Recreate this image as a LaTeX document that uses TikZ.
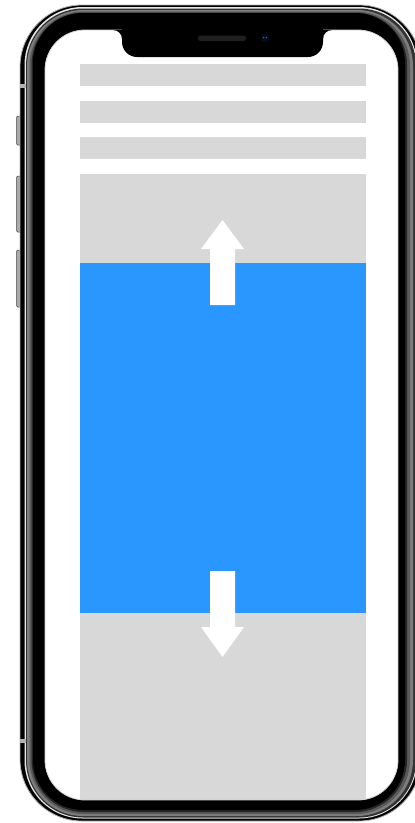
\documentclass[tikz,border=0pt]{standalone}
\definecolor{barGray}{RGB}{216,216,216}
\definecolor{panelBlue}{RGB}{41,151,255}
\definecolor{bandGray}{RGB}{125,125,125}
\definecolor{hiGray}{RGB}{230,230,230}
\definecolor{btnGray}{RGB}{170,170,170}
\definecolor{camBlue}{RGB}{40,90,200}
\tikzset{
  sidebtn/.style={fill=btnGray, draw=black!75, line width=0.5pt, rounded corners=1.2pt},
  antenna/.style={fill=gray!60},
  bar/.style={fill=barGray},
  arrowshape/.style={fill=white}
}
\begin{document}
\begin{tikzpicture}[x=1pt,y=-1pt]
\useasboundingbox (0,0) rectangle (415,823);
\clip (0,0) rectangle (415,823);
\fill[white] (0,0) rectangle (415,823);
% side buttons
\draw[sidebtn] (16.5,116) rectangle (22,145);
\draw[sidebtn] (16.5,176) rectangle (22,232);
\draw[sidebtn] (16.5,250) rectangle (22,307);
% body layers
\fill[black, draw=gray!60, line width=0.8pt, rounded corners=62pt] (20,5) rectangle (421,821);
\fill[hiGray, rounded corners=58pt] (24.5,7) rectangle (417,818.5);
\fill[black!80, rounded corners=57pt] (26,8.5) rectangle (416,817.5);
\fill[bandGray, rounded corners=56pt] (27,10) rectangle (413,816);
\fill[black!65, rounded corners=54pt] (29.5,11.5) rectangle (410,814);
\fill[black!85, rounded corners=52pt] (31.5,12.5) rectangle (407,812);
\fill[black, rounded corners=50pt] (33,13) rectangle (405,810);
% antenna marks
\fill[antenna] (20,84) rectangle (25.5,88);
\fill[antenna] (20,739) rectangle (25.5,743);
% screen
\begin{scope}
  \clip[rounded corners=40pt] (45,30) rectangle (398,800);
  \fill[white] (45,30) rectangle (398,800);
  \fill[bar] (80,64) rectangle (366,86);
  \fill[bar] (80,101) rectangle (366,123);
  \fill[bar] (80,137) rectangle (366,159);
  \fill[bar] (80,174) rectangle (366,800);
  \fill[panelBlue] (80,263) rectangle (366,613);
  \fill[arrowshape] (222.5,220) -- (244,249) -- (235,249) -- (235,305) -- (210,305) -- (210,249) -- (201,249) -- cycle;
  \fill[arrowshape] (210,571) -- (235,571) -- (235,627) -- (244,627) -- (222.5,657) -- (201,627) -- (210,627) -- cycle;
\end{scope}
\draw[gray!35, line width=0.8pt, rounded corners=40pt] (45,30) rectangle (398,800);
% notch
\fill[black, rounded corners=15pt] (122,15) rectangle (323,57);
\fill[black] (113,30) -- (122,30) -- (122,39) .. controls (122,34) and (118,30) .. (113,30) -- cycle;
\fill[black] (332,30) -- (323,30) -- (323,39) .. controls (323,34) and (327,30) .. (332,30) -- cycle;
% speaker and camera
\fill[black!88, rounded corners=2.5pt] (198,35.5) rectangle (246,41);
\fill[black!80!camBlue!60!black] (265,38) circle (4.2pt);
\fill[camBlue] (263.6,37.6) circle (0.9pt);
\fill[camBlue] (266.4,37.6) circle (0.9pt);
\end{tikzpicture}
\end{document}
